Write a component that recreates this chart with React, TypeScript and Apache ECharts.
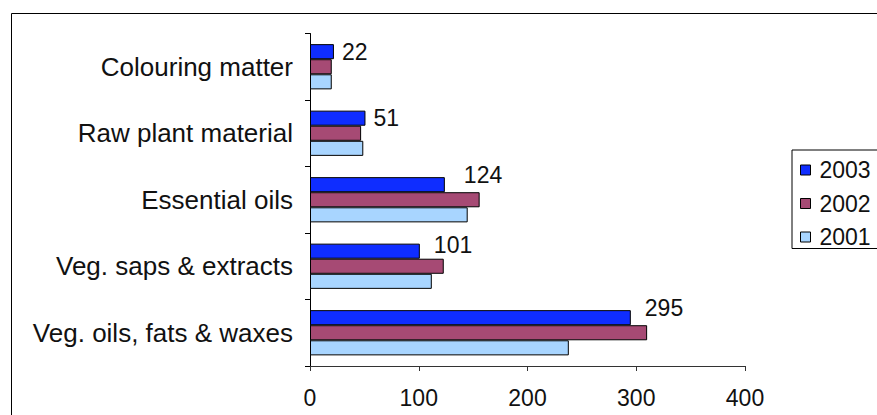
import React, { useEffect, useRef } from "react";
import * as echarts from "echarts";

// Categories listed bottom-to-top, as the value axis runs upward
const categories = [
  "Veg. oils, fats & waxes",
  "Veg. saps & extracts",
  "Essential oils",
  "Raw plant material",
  "Colouring matter",
];

const values2003 = [295, 101, 124, 51, 22];
const values2002 = [310, 123, 156, 47, 20];
const values2001 = [238, 112, 145, 49, 20];

const years = ["2003", "2002", "2001"];
const xTicks = [0, 100, 200, 300, 400];

// Small nudges for the value labels on the 2003 bars: [distance, vertical shift]
const labelNudge: Record<string, [number, number]> = {
  "Veg. oils, fats & waxes": [14, -10],
  "Veg. saps & extracts": [14, -6],
  "Essential oils": [19, -10],
  "Raw plant material": [8, 0],
  "Colouring matter": [8, 0],
};

const FONT = "'Liberation Sans', Arial, sans-serif";

export default function App() {
  const ref = useRef<HTMLDivElement>(null);

  useEffect(() => {
    if (!ref.current) return;
    const chart = echarts.init(ref.current, null, { renderer: "svg" });

    const barBase = {
      type: "bar" as const,
      barGap: "0%",
      barCategoryGap: "32%",
      itemStyle: { borderColor: "#000", borderWidth: 1 },
    };

    chart.setOption({
      animation: false,
      backgroundColor: "#fff",
      textStyle: { fontFamily: FONT },
      grid: { left: 310, right: 132, top: 33.5, bottom: 49, containLabel: false },
      graphic: [
        {
          type: "rect",
          shape: { x: 11.5, y: 13.5, width: 1200, height: 1200 },
          style: { fill: "none", stroke: "#000", lineWidth: 1 },
          silent: true,
          z: 100,
        },
      ],
      legend: {
        orient: "vertical",
        left: 792,
        top: 150,
        data: years,
        icon: "rect",
        itemWidth: 10,
        itemHeight: 10,
        itemGap: 10.5,
        padding: [8.5, 60, 0, 8],
        borderColor: "#000",
        borderWidth: 1,
        itemStyle: { borderColor: "#000", borderWidth: 1 },
        textStyle: {
          fontFamily: FONT,
          fontSize: 23,
          color: "#111",
          lineHeight: 23,
          padding: [0, 0, 0, 4],
        },
      },
      xAxis: {
        type: "value",
        min: 0,
        max: 400,
        interval: 100,
        splitLine: { show: false },
        axisLine: { show: true, lineStyle: { color: "#333", width: 1 } },
        axisTick: { show: true, length: 5, lineStyle: { color: "#333" } },
        axisLabel: {
          fontFamily: FONT,
          fontSize: 23,
          color: "#111",
          margin: 20,
          formatter: (v: number) => (xTicks.includes(v) ? String(v) : ""),
        },
      },
      yAxis: {
        type: "category",
        data: categories,
        axisLine: { show: true, lineStyle: { color: "#000", width: 1 } },
        axisTick: { show: true, length: 5, lineStyle: { color: "#000" } },
        axisLabel: {
          fontFamily: FONT,
          fontSize: 26,
          color: "#111",
          margin: 17,
        },
      },
      series: [
        {
          ...barBase,
          name: years[0],
          itemStyle: { ...barBase.itemStyle, color: "#0f2dff" },
          data: values2003.map((v, i) => {
            const [dist, dy] = labelNudge[categories[i]];
            return {
              value: v,
              label: {
                show: true,
                position: "right",
                distance: dist,
                offset: [0, dy],
                fontFamily: FONT,
                fontSize: 23,
                color: "#111",
              },
            };
          }),
        },
        {
          ...barBase,
          name: years[1],
          itemStyle: { ...barBase.itemStyle, color: "#a64a74" },
          data: values2002,
        },
        {
          ...barBase,
          name: years[2],
          itemStyle: { ...barBase.itemStyle, color: "#a8d5ff" },
          data: values2001,
        },
      ],
    });

    return () => chart.dispose();
  }, []);

  return (
    <div
      ref={ref}
      style={{ position: "fixed", left: 0, top: 0, width: 877, height: 415 }}
    />
  );
}
